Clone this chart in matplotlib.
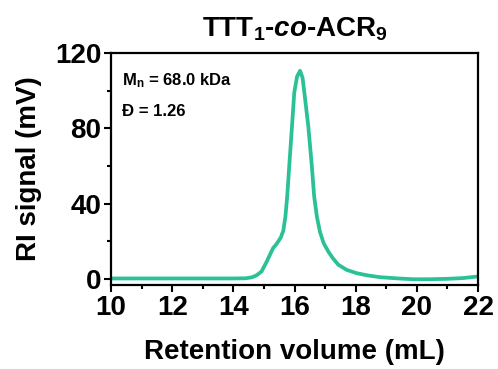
import matplotlib
matplotlib.use("Agg")
import matplotlib.pyplot as plt
from matplotlib.ticker import MultipleLocator

plt.rcParams['font.family'] = ['Liberation Sans', 'DejaVu Sans']
plt.rcParams['font.weight'] = 'bold'
plt.rcParams['mathtext.fontset'] = 'custom'
plt.rcParams['mathtext.rm'] = 'Liberation Sans:bold'
plt.rcParams['mathtext.bf'] = 'Liberation Sans:bold'
plt.rcParams['mathtext.it'] = 'Liberation Sans:italic:bold'

# GPC trace
volume = [10.0, 12.0, 14.0, 14.4, 14.6, 14.75, 14.92, 15.09, 15.2, 15.3, 15.4, 15.47,
          15.55, 15.63, 15.7, 15.76, 15.83, 15.92, 15.99, 16.08, 16.18, 16.26, 16.32,
          16.45, 16.56, 16.64, 16.73, 16.83, 16.95, 17.1, 17.25, 17.43, 17.7, 18.03,
          18.4, 18.79, 19.3, 19.87, 20.4, 20.97, 21.5, 21.95, 22.0]
signal = [0.2, 0.2, 0.2, 0.3, 0.8, 1.8, 3.9, 9.2, 13.0, 16.4, 18.3, 20.0,
          22.0, 25.5, 33.0, 44.0, 61.0, 82.0, 99.0, 107.5, 110.6, 107.0, 99.0,
          81.0, 60.8, 44.0, 33.0, 25.0, 19.0, 14.6, 11.0, 7.5, 4.8, 3.0,
          1.8, 0.9, 0.3, -0.2, -0.2, 0.0, 0.4, 1.2, 1.3]

xlabel = "Retention volume (mL)"
ylabel = "RI signal (mV)"
title = r"TTT$_1$-$\mathit{co}$-ACR$_9$"
notes = [r"M$_\mathrm{n}$ = 68.0 kDa", "Đ = 1.26"]

fig = plt.figure(figsize=(4.98, 3.69), dpi=100)
ax = fig.add_axes([0.223, 0.228, 0.737, 0.628])

ax.plot(volume, signal, color='#2bc196', lw=2.7, solid_joinstyle='round')

ax.set_xlim(10, 22)
ax.set_ylim(-3.2, 120)
ax.xaxis.set_major_locator(MultipleLocator(2))
ax.xaxis.set_minor_locator(MultipleLocator(1))
ax.yaxis.set_major_locator(MultipleLocator(40))
ax.yaxis.set_minor_locator(MultipleLocator(20))
ax.tick_params(which='major', direction='out', length=5, width=1.5, labelsize=20, pad=2)
ax.tick_params(which='minor', direction='out', length=3, width=1.5)
for lab in ax.get_xticklabels() + ax.get_yticklabels():
    lab.set_fontweight('bold')
for s in ax.spines.values():
    s.set_linewidth(1.6)

ax.set_xlabel(xlabel, fontsize=20, fontweight='bold', labelpad=13)
ax.set_ylabel(ylabel, fontsize=20, fontweight='bold', labelpad=9)
ax.set_title(title, fontsize=20, fontweight='bold', pad=12)

ax.text(0.03, 0.86, notes[0], transform=ax.transAxes, fontsize=12, fontweight='bold')
ax.text(0.03, 0.73, notes[1], transform=ax.transAxes, fontsize=12, fontweight='bold')

fig.savefig("out.png", dpi=100)
